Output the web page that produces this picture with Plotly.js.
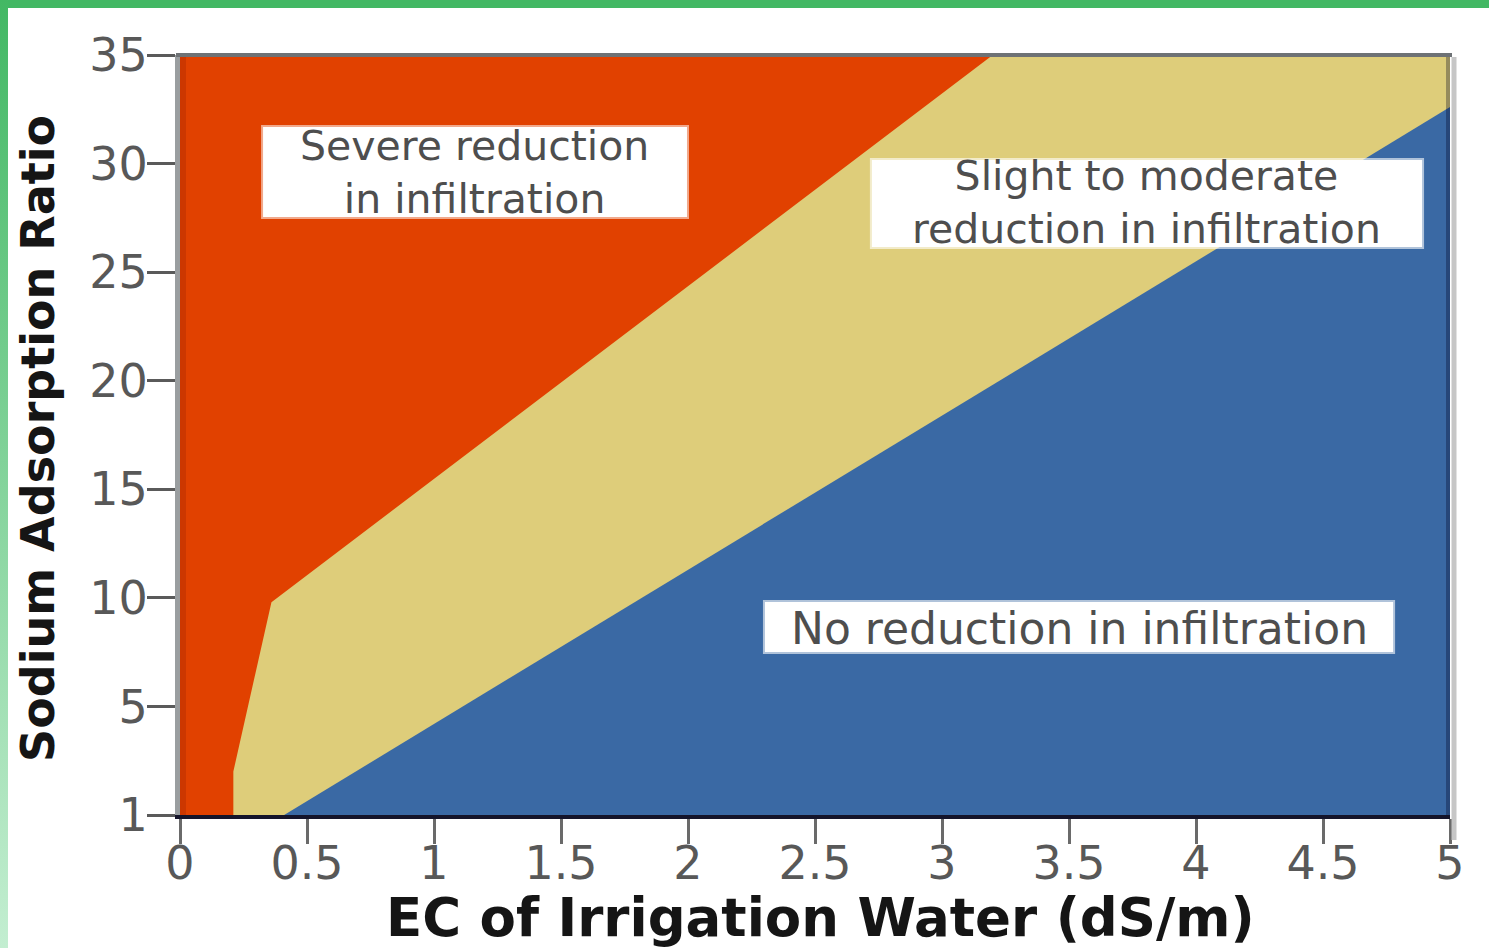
<!DOCTYPE html>
<html>
<head>
<meta charset="utf-8">
<script src="https://cdn.plot.ly/plotly-3.0.1.min.js"></script>
<style>
  html, body { margin: 0; padding: 0; background: #ffffff; }
  #wrap { position: relative; width: 1489px; height: 948px; overflow: hidden; }
  #chart { position: absolute; left: 0; top: 0; width: 1489px; height: 948px; }
  #topbar { position: absolute; left: 0; top: 0; width: 1489px; height: 8px; background: #43b864; z-index: 5; }
  #leftbar { position: absolute; left: 0; top: 0; width: 8px; height: 948px; background: linear-gradient(#43b864, #c3eed1); z-index: 5; }
</style>
</head>
<body>
<div id="wrap">
  <div id="chart"></div>
  <div id="topbar"></div>
  <div id="leftbar"></div>
</div>
<script>
// ---- data ----
const xMax = 5;
const yMax = 35;
// boundary between "severe" and "slight to moderate"
const ecSevere = [0.21, 0.21, 0.36, 3.2];
const sarSevere = [0, 2, 9.8, 35];
// boundary between "slight to moderate" and "no reduction"
const ecNone = [0.41, 5];
const sarNone = [0, 32.6];
// ticks
const xTickVals = [0, 0.5, 1, 1.5, 2, 2.5, 3, 3.5, 4, 4.5, 5];
const xTickText = ['0', '0.5', '1', '1.5', '2', '2.5', '3', '3.5', '4', '4.5', '5'];
const yTickVals = [0, 5, 10, 15, 20, 25, 30, 35];
const yTickText = ['1', '5', '10', '15', '20', '25', '30', '35'];
// zone labels
const zoneLabels = ['Severe reduction<br>in infiltration', 'Slight to moderate<br>reduction in infiltration', 'No reduction in infiltration'];
const zoneLabelX = [1.16, 3.807, 3.54];
const zoneLabelY = [29.6, 28.2, 8.6];
const zoneLabelSize = [41, 41, 44];

const RED = '#e14100';
const YELLOW = '#decd7a';
const BLUE = '#3a69a4';

const redX = [0, 0].concat(ecSevere.slice().reverse());
const redY = [0, yMax].concat(sarSevere.slice().reverse());
const blueX = ecNone.concat([xMax]);
const blueY = sarNone.concat([0]);

const traces = [
  { type: 'scatter', mode: 'lines', x: redX, y: redY, fill: 'toself', fillcolor: RED,
    line: { width: 0, color: RED }, hoverinfo: 'skip', showlegend: false },
  { type: 'scatter', mode: 'lines', x: blueX, y: blueY, fill: 'toself', fillcolor: BLUE,
    line: { width: 0, color: BLUE }, hoverinfo: 'skip', showlegend: false }
];

const W = 1270, H = 760;
const shapes = [
  { type: 'rect', xref: 'paper', yref: 'paper', x0: 0, x1: 6 / W, y0: 0, y1: 1,
    fillcolor: 'rgba(90,0,0,0.15)', line: { width: 0 }, layer: 'above' },
  { type: 'rect', xref: 'paper', yref: 'paper', x0: 1 - 4 / W, x1: 1, y0: 0, y1: 1,
    fillcolor: 'rgba(0,0,30,0.32)', line: { width: 0 }, layer: 'above' },
  { type: 'line', xref: 'paper', yref: 'paper', x0: -4 / W, x1: 1 + 2 / W, y0: 1, y1: 1,
    line: { color: '#6e7275', width: 4 }, layer: 'above' },
  { type: 'line', xref: 'paper', yref: 'paper', x0: 1 + 4 / W, x1: 1 + 4 / W, y0: -25 / H, y1: 1 - 2 / H,
    line: { color: '#c6c6c6', width: 5 }, layer: 'above' },
  { type: 'rect', xref: 'x', yref: 'y', x0: 0.327, x1: 1.996, y0: 27.54, y1: 31.68,
    fillcolor: '#ffffff', line: { color: 'rgba(255,255,255,0.55)', width: 4 }, layer: 'above' },
  { type: 'rect', xref: 'x', yref: 'y', x0: 2.724, x1: 4.89, y0: 26.16, y1: 30.16,
    fillcolor: '#ffffff', line: { color: 'rgba(255,255,255,0.6)', width: 4 }, layer: 'above' },
  { type: 'rect', xref: 'x', yref: 'y', x0: 2.303, x1: 4.776, y0: 7.507, y1: 9.81,
    fillcolor: '#ffffff', line: { color: 'rgba(255,255,255,0.6)', width: 4 }, layer: 'above' }
];

const annotations = zoneLabels.map((t, i) => ({
  text: t, x: zoneLabelX[i], y: zoneLabelY[i], xref: 'x', yref: 'y',
  showarrow: false, xanchor: 'center', yanchor: 'middle', align: 'center',
  font: { family: 'DejaVu Sans', size: zoneLabelSize[i], color: '#4e4e4e' }
}));
annotations.push({
  text: 'EC of Irrigation Water (dS/m)', xref: 'paper', yref: 'paper',
  x: (820 - 180) / W, y: (815 - 917) / H, showarrow: false, xanchor: 'center', yanchor: 'middle',
  font: { family: 'DejaVu Sans', size: 53, color: '#151515', weight: 'bold' }
});
annotations.push({
  text: 'Sodium Adsorption Ratio', xref: 'paper', yref: 'paper',
  x: (38 - 180) / W, y: (815 - 439) / H, showarrow: false, xanchor: 'center', yanchor: 'middle',
  textangle: -90,
  font: { family: 'DejaVu Sans', size: 46, color: '#151515', weight: 'bold' }
});

const layout = {
  width: 1489, height: 948,
  margin: { l: 180, r: 39, t: 55, b: 133, pad: 0 },
  paper_bgcolor: '#ffffff',
  plot_bgcolor: YELLOW,
  showlegend: false,
  xaxis: {
    range: [0, xMax], fixedrange: true, showgrid: false, zeroline: false,
    tickmode: 'array', tickvals: xTickVals, ticktext: xTickText,
    ticks: 'outside', ticklen: 25, tickwidth: 3, tickcolor: '#6a6a6a',
    ticklabelstandoff: -20,
    showline: true, linecolor: '#14142a', linewidth: 4,
    tickfont: { family: 'DejaVu Sans', size: 46, color: '#585858' }
  },
  yaxis: {
    range: [0, yMax], fixedrange: true, showgrid: false, zeroline: false,
    tickmode: 'array', tickvals: yTickVals, ticktext: yTickText,
    ticks: 'outside', ticklen: 28, tickwidth: 3, tickcolor: '#5a5a5a',
    ticklabelstandoff: -10,
    showline: true, linecolor: '#9a9ea0', linewidth: 5,
    tickfont: { family: 'DejaVu Sans', size: 46, color: '#585858' }
  },
  shapes: shapes,
  annotations: annotations
};

Plotly.newPlot('chart', traces, layout, { displayModeBar: false, staticPlot: true });
</script>
</body>
</html>
